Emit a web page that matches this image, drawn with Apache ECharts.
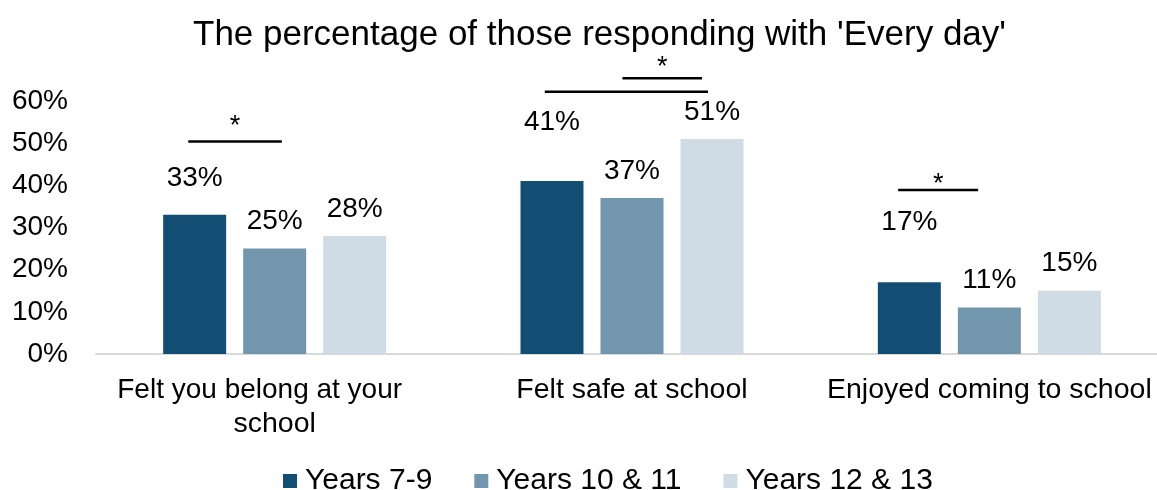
<!DOCTYPE html>
<html>
<head>
<meta charset="utf-8">
<script src="https://cdn.jsdelivr.net/npm/echarts@6/dist/echarts.min.js"></script>
<style>
html,body{margin:0;padding:0;background:#fff;}
#chart{width:1157px;height:490px;}
</style>
</head>
<body>
<div id="chart"></div>
<script>
// ---- data ----
var titleText = "The percentage of those responding with 'Every day'";
var categories = ["Felt you belong at your school", "Felt safe at school", "Enjoyed coming to school"];
var seriesNames = ["Years 7-9", "Years 10 & 11", "Years 12 & 13"];
var years79 = [33, 41, 17];
var years1011 = [25, 37, 11];
var years1213 = [28, 51, 15];
var yTicks = [0, 10, 20, 30, 40, 50, 60];
// significance brackets: category index, span in bar slots (0..2), line value (%), star value (%)
var sigCat = [0, 1, 1, 2];
var sigFrom = [-0.08, -0.09, 0.88, -0.14];
var sigTo = [1.09, 1.95, 1.875, 0.86];
var sigLine = [50.4, 62.2, 65.4, 38.9];
var sigStar = [53.9, null, 68.0, 40.1];

// ---- styles ----
var colors = ['#124e74', '#7296ae', '#d0dce5'];
var labelDist = [[23, 45, 46], [13, 13, 13], [13, 13, 13]];
var FONT = '"Liberation Sans", Arial, sans-serif';
var BAR_W = 63, BAR_GAP = 17;

var chart = echarts.init(document.getElementById('chart'), null, {renderer: 'canvas'});
var allSeries = [years79, years1011, years1213];

var series = allSeries.map(function (vals, si) {
  return {
    name: seriesNames[si],
    type: 'bar',
    barWidth: BAR_W,
    barGap: (BAR_GAP / BAR_W * 100).toFixed(1) + '%',
    itemStyle: {color: colors[si]},
    data: vals.map(function (v, ci) {
      return {
        value: v,
        label: {show: true, position: 'top', distance: labelDist[si][ci]}
      };
    }),
    label: {
      show: true, position: 'top', formatter: '{c}%',
      fontFamily: FONT, fontSize: 28, color: '#000'
    },
    emphasis: {disabled: true},
    animation: false
  };
});

var sigData = sigCat.map(function (c, i) {
  return [c, sigFrom[i], sigTo[i], sigLine[i], sigStar[i] == null ? -1 : sigStar[i]];
});

series.push({
  type: 'custom',
  name: 'sig',
  silent: true,
  animation: false,
  z: 5,
  data: sigData,
  encode: {x: 0, y: 3},
  renderItem: function (params, api) {
    var cat = api.value(0);
    var center = api.coord([cat, 0])[0];
    var slot = BAR_W + BAR_GAP;
    var x0 = center + (api.value(1) - 1) * slot;
    var x1 = center + (api.value(2) - 1) * slot;
    var yLine = api.coord([cat, api.value(3)])[1];
    var children = [{
      type: 'line',
      shape: {x1: x0, y1: yLine, x2: x1, y2: yLine},
      style: {stroke: '#000', lineWidth: 2.5}
    }];
    var sv = api.value(4);
    if (sv >= 0) {
      var yStar = api.coord([cat, sv])[1];
      children.push({
        type: 'text',
        style: {
          text: '*', x: (x0 + x1) / 2, y: yStar,
          align: 'center', verticalAlign: 'middle',
          font: '27px ' + FONT, fill: '#000'
        }
      });
    }
    return {type: 'group', children: children};
  }
});

chart.setOption({
  animation: false,
  title: {
    text: titleText, left: 188, top: 13,
    textStyle: {fontFamily: FONT, fontSize: 35, fontWeight: 'normal', color: '#000'}
  },
  legend: {
    data: seriesNames,
    top: 461, left: 278,
    icon: 'rect', itemWidth: 14, itemHeight: 14, itemGap: 42,
    textStyle: {fontFamily: FONT, fontSize: 30, color: '#000', padding: [0, 0, 0, 3]}
  },
  grid: {left: 96, right: -11, top: 101, bottom: 136, containLabel: false, outerBoundsMode: 'none'},
  xAxis: {
    type: 'category',
    data: categories,
    axisLine: {lineStyle: {color: '#d9d9d9', width: 2}},
    axisTick: {show: false},
    axisLabel: {
      interval: 0, margin: 19,
      fontFamily: FONT, fontSize: 28.5, color: '#000', lineHeight: 34,
      formatter: function (v) {
        if (v === categories[0]) {
          return '{a|Felt you belong at your}\n{b|school}';
        }
        return v;
      },
      rich: {
        a: {fontFamily: FONT, fontSize: 28, color: '#000', lineHeight: 34, padding: [0, 30, 0, 0]},
        b: {fontFamily: FONT, fontSize: 28.5, color: '#000', lineHeight: 34}
      }
    }
  },
  yAxis: {
    type: 'value', min: yTicks[0], max: yTicks[yTicks.length - 1], interval: 10,
    splitLine: {show: false},
    axisLine: {show: false}, axisTick: {show: false},
    axisLabel: {formatter: '{value}%', margin: 28, fontFamily: FONT, fontSize: 28, color: '#000'}
  },
  series: series
});
</script>
</body>
</html>
